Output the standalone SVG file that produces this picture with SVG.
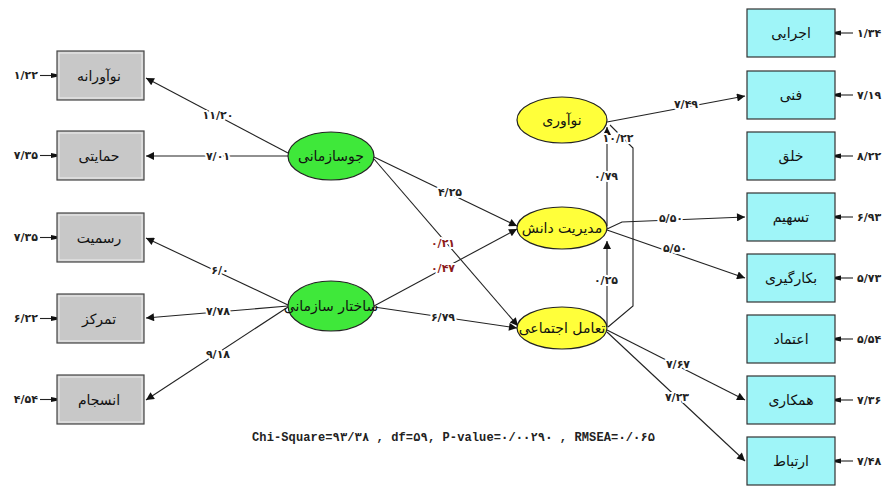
<svg xmlns="http://www.w3.org/2000/svg" width="887" height="486" viewBox="0 0 887 486">
<style>
.gbox{fill:#c8c8c8;stroke:#444;stroke-width:1.2}
.gin{fill:none;stroke:#eeeeee;stroke-width:1}
.cbox{fill:#9ff5f8;stroke:#333;stroke-width:1.2}
.green{fill:#3fe83a;stroke:#222;stroke-width:1.2}
.yellow{fill:#ffff3a;stroke:#222;stroke-width:1.2}
.nt{font-family:"DejaVu Sans",sans-serif;font-size:14px;fill:#111;text-anchor:middle;dominant-baseline:central}
.el{font-family:"DejaVu Sans",sans-serif;font-size:11px;font-weight:bold;fill:#222;text-anchor:middle;dominant-baseline:central;stroke:#fff;stroke-width:4;paint-order:stroke;stroke-linejoin:round}
.red{fill:#8b1a1a}
.er{font-family:"DejaVu Sans",sans-serif;font-size:11px;font-weight:bold;fill:#222;dominant-baseline:central}
.ln{fill:none;stroke:#222;stroke-width:1.1}
.ft{font-family:"Liberation Mono","DejaVu Sans Mono",monospace;font-size:12px;font-weight:bold;fill:#222}
</style>
<defs>
<marker id="arr" markerUnits="userSpaceOnUse" markerWidth="11" markerHeight="8" viewBox="0 0 10 10" refX="10" refY="5" orient="auto">
<path d="M0,0 L10,5 L0,10 z" fill="#111"/>
</marker>
<marker id="sq" markerUnits="userSpaceOnUse" markerWidth="9" markerHeight="6" viewBox="0 0 10 10" refX="10" refY="5" orient="auto">
<path d="M0,1 L10,3 L10,7 L0,9 z" fill="#111"/>
</marker>
</defs>

<g id="connectors">
<path class="ln" d="M288,153 L146,78" marker-end="url(#arr)"/>
<path class="ln" d="M288,156 L146,156" marker-end="url(#arr)"/>
<path class="ln" d="M288,305 L146,238" marker-end="url(#arr)"/>
<path class="ln" d="M288,306 L146,318" marker-end="url(#arr)"/>
<path class="ln" d="M288,307 L146,400" marker-end="url(#arr)"/>
<path class="ln" d="M374,157 L517,226" marker-end="url(#arr)"/>
<path class="ln" d="M374,159 L518,326" marker-end="url(#arr)"/>
<path class="ln" d="M374,306 L517,229" marker-end="url(#arr)"/>
<path class="ln" d="M374,307 L517,328" marker-end="url(#arr)"/>
<path class="ln" d="M607,327 L607,241" marker-end="url(#arr)"/>
<path class="ln" d="M607,226 L607,127" marker-end="url(#arr)"/>
<path class="ln" d="M608,327 L633,306 L633,148 L610,125"/>
<path class="ln" d="M607,122 L745,96" marker-end="url(#arr)"/>
<path class="ln" d="M607,229 L622,222 L745,217" marker-end="url(#arr)"/>
<path class="ln" d="M607,230 L745,278" marker-end="url(#arr)"/>
<path class="ln" d="M607,330 L745,400" marker-end="url(#arr)"/>
<path class="ln" d="M607,332 L745,461" marker-end="url(#arr)"/>
<path class="ln" d="M40,75.5 L57,75.5" marker-end="url(#sq)"/>
<path class="ln" d="M40,155.5 L57,155.5" marker-end="url(#sq)"/>
<path class="ln" d="M40,237.5 L57,237.5" marker-end="url(#sq)"/>
<path class="ln" d="M40,318.5 L57,318.5" marker-end="url(#sq)"/>
<path class="ln" d="M40,399.5 L57,399.5" marker-end="url(#sq)"/>
<path class="ln" d="M853,33 L835,33" marker-end="url(#sq)"/>
<path class="ln" d="M853,95 L835,95" marker-end="url(#sq)"/>
<path class="ln" d="M853,156 L835,156" marker-end="url(#sq)"/>
<path class="ln" d="M853,217 L835,217" marker-end="url(#sq)"/>
<path class="ln" d="M853,278 L835,278" marker-end="url(#sq)"/>
<path class="ln" d="M853,339 L835,339" marker-end="url(#sq)"/>
<path class="ln" d="M853,400 L835,400" marker-end="url(#sq)"/>
<path class="ln" d="M853,461 L835,461" marker-end="url(#sq)"/>
<text class="el" x="218" y="115">۱۱/۲۰</text>
<text class="el" x="218" y="156">۷/۰۱</text>
<text class="el" x="220" y="270">۶/۰</text>
<text class="el" x="218" y="311">۷/۷۸</text>
<text class="el" x="218" y="354">۹/۱۸</text>
<text class="el" x="450" y="192">۴/۲۵</text>
<text class="el red" x="443" y="243">۰/۲۱</text>
<text class="el red" x="443" y="268">۰/۴۷</text>
<text class="el" x="443" y="317">۶/۷۹</text>
<text class="el" x="606" y="280">۰/۲۵</text>
<text class="el" x="606" y="176">۰/۷۹</text>
<text class="el" x="618" y="138">۱۰/۲۲</text>
<text class="el" x="686" y="104">۷/۴۹</text>
<text class="el" x="671" y="218">۵/۵۰</text>
<text class="el" x="675" y="248">۵/۵۰</text>
<text class="el" x="678" y="364">۷/۶۷</text>
<text class="el" x="677" y="397">۷/۲۳</text>
</g>

<g id="err-left">
<text class="er" x="38" y="75.5" text-anchor="end">۱/۲۲</text>
<text class="er" x="38" y="155.5" text-anchor="end">۷/۳۵</text>
<text class="er" x="38" y="237.5" text-anchor="end">۷/۳۵</text>
<text class="er" x="38" y="318.5" text-anchor="end">۶/۲۲</text>
<text class="er" x="38" y="399.5" text-anchor="end">۴/۵۴</text>
</g>
<g id="err-right">
<text class="er" x="857" y="33">۱/۳۴</text>
<text class="er" x="857" y="95">۷/۱۹</text>
<text class="er" x="857" y="156">۸/۲۲</text>
<text class="er" x="857" y="217">۶/۹۳</text>
<text class="er" x="857" y="278">۵/۷۳</text>
<text class="er" x="857" y="339">۵/۵۴</text>
<text class="er" x="857" y="400">۷/۳۶</text>
<text class="er" x="857" y="461">۷/۴۸</text>
</g>

<g id="n-navavaraneh"><rect class="gbox" x="57" y="51" width="87" height="49"/><rect class="gin" x="59" y="53" width="83" height="45"/><text class="nt" x="99" y="75.5">نوآورانه</text></g>
<g id="n-hemayati"><rect class="gbox" x="57" y="131" width="87" height="49"/><rect class="gin" x="59" y="133" width="83" height="45"/><text class="nt" x="99" y="155.5">حمایتی</text></g>
<g id="n-rasmiyat"><rect class="gbox" x="57" y="213" width="87" height="49"/><rect class="gin" x="59" y="215" width="83" height="45"/><text class="nt" x="99" y="237.5">رسمیت</text></g>
<g id="n-tamarkoz"><rect class="gbox" x="57" y="294" width="87" height="49"/><rect class="gin" x="59" y="296" width="83" height="45"/><text class="nt" x="99" y="318.5">تمرکز</text></g>
<g id="n-ensejam"><rect class="gbox" x="57" y="375" width="87" height="49"/><rect class="gin" x="59" y="377" width="83" height="45"/><text class="nt" x="99" y="399.5">انسجام</text></g>

<g id="n-jousazmani"><ellipse class="green" cx="331" cy="156" rx="43" ry="24"/><text class="nt" x="331" y="156">جوسازمانی</text></g>
<g id="n-sakhtar"><ellipse class="green" cx="331" cy="306" rx="43" ry="25"/><text class="nt" x="331" y="306" font-size="13">ساختار سازمانی</text></g>

<g id="n-noavari"><ellipse class="yellow" cx="562" cy="120" rx="45" ry="23"/><text class="nt" x="562" y="120">نوآوری</text></g>
<g id="n-modiriat"><ellipse class="yellow" cx="562" cy="228" rx="45" ry="21"/><text class="nt" x="562" y="228">مدیریت دانش</text></g>
<g id="n-taamol"><ellipse class="yellow" cx="562" cy="328" rx="45" ry="21"/><text class="nt" x="562" y="328">تعامل اجتماعی</text></g>

<g id="n-ejraei"><rect class="cbox" x="747" y="9" width="88" height="48"/><text class="nt" x="791" y="33">اجرایی</text></g>
<g id="n-fanni"><rect class="cbox" x="747" y="71" width="88" height="48"/><text class="nt" x="791" y="95">فنی</text></g>
<g id="n-kholgh"><rect class="cbox" x="747" y="132" width="88" height="48"/><text class="nt" x="791" y="156">خلق</text></g>
<g id="n-tashim"><rect class="cbox" x="747" y="193" width="88" height="48"/><text class="nt" x="791" y="217">تسهیم</text></g>
<g id="n-bekargiri"><rect class="cbox" x="747" y="254" width="88" height="48"/><text class="nt" x="791" y="278">بکارگیری</text></g>
<g id="n-etemad"><rect class="cbox" x="747" y="315" width="88" height="48"/><text class="nt" x="791" y="339">اعتماد</text></g>
<g id="n-hamkari"><rect class="cbox" x="747" y="376" width="88" height="48"/><text class="nt" x="791" y="400">همکاری</text></g>
<g id="n-ertebat"><rect class="cbox" x="747" y="437" width="88" height="48"/><text class="nt" x="791" y="461">ارتباط</text></g>

<text class="ft" x="252" y="441" textLength="403" lengthAdjust="spacing">Chi-Square=۹۳/۳۸ , df=۵۹, P-value=۰/۰۰۲۹۰ , RMSEA=۰/۰۶۵</text>
</svg>
